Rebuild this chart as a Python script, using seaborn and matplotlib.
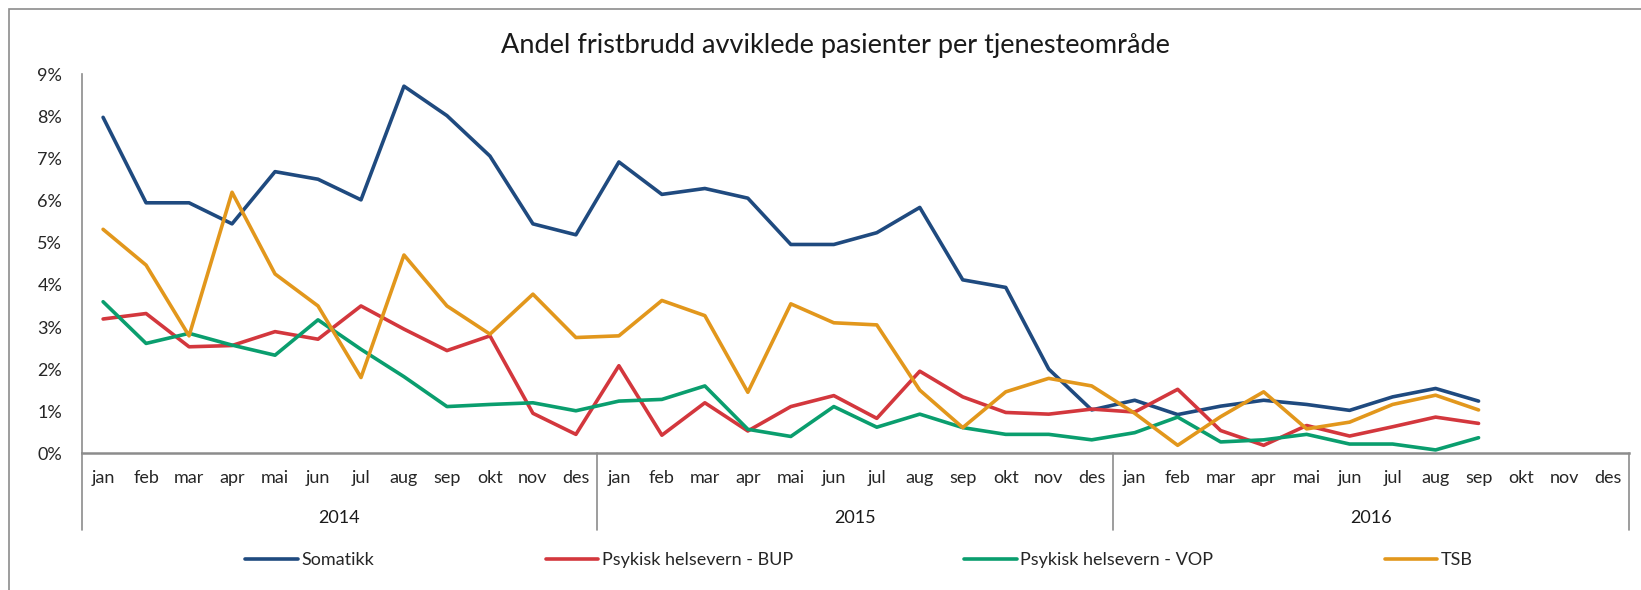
import numpy as np
import pandas as pd
import seaborn as sns
import matplotlib.pyplot as plt
import matplotlib.transforms as mtransforms

# Måneder og år
months = ["jan", "feb", "mar", "apr", "mai", "jun", "jul", "aug", "sep", "okt", "nov", "des"]
years = ["2014", "2015", "2016"]

nan = np.nan
somatikk = [7.98, 5.95, 5.95, 5.45, 6.69, 6.51, 6.02, 8.72, 8.02, 7.06, 5.45, 5.19,
            6.92, 6.15, 6.29, 6.06, 4.96, 4.96, 5.24, 5.84, 4.12, 3.94, 2.00, 1.03,
            1.26, 0.92, 1.12, 1.26, 1.16, 1.02, 1.34, 1.54, 1.24, nan, nan, nan]
bup = [3.19, 3.32, 2.53, 2.56, 2.89, 2.71, 3.50, 2.95, 2.44, 2.79, 0.95, 0.45,
       2.08, 0.43, 1.20, 0.53, 1.11, 1.37, 0.83, 1.95, 1.34, 0.97, 0.93, 1.05,
       0.98, 1.52, 0.54, 0.19, 0.66, 0.41, 0.63, 0.86, 0.71, nan, nan, nan]
vop = [3.60, 2.61, 2.85, 2.57, 2.33, 3.17, 2.47, 1.82, 1.11, 1.16, 1.20, 1.01,
       1.24, 1.28, 1.60, 0.57, 0.40, 1.11, 0.62, 0.93, 0.61, 0.45, 0.45, 0.32,
       0.49, 0.86, 0.27, 0.32, 0.45, 0.22, 0.22, 0.08, 0.37, nan, nan, nan]
tsb = [5.32, 4.47, 2.79, 6.20, 4.26, 3.50, 1.80, 4.71, 3.50, 2.83, 3.78, 2.75,
       2.79, 3.63, 3.27, 1.45, 3.55, 3.10, 3.05, 1.50, 0.61, 1.46, 1.78, 1.60,
       0.95, 0.19, 0.87, 1.46, 0.58, 0.74, 1.16, 1.38, 1.03, nan, nan, nan]

series_names = ["Somatikk", "Psykisk helsevern - BUP", "Psykisk helsevern - VOP", "TSB"]
colors = ["#1F4A7F", "#D3373D", "#0A9E6E", "#E2971C"]

# Langt format for seaborn
n = len(months) * len(years)
df = pd.concat([
    pd.DataFrame({"pos": np.arange(n), "andel": vals, "serie": name})
    for name, vals in zip(series_names, [somatikk, bup, vop, tsb])
]).dropna()

sns.set_theme(style="white")
plt.rcParams["font.family"] = ["Lato", "DejaVu Sans"]

W, H = 1641, 590
fig = plt.figure(figsize=(W / 100, H / 100), dpi=100)
ax = fig.add_axes([81.6 / W, 1 - 453.3 / H, (1629 - 81.6) / W, (453.3 - 74.4) / H])

sns.lineplot(data=df, x="pos", y="andel", hue="serie", hue_order=series_names,
             palette=colors, linewidth=2.6, ax=ax, legend=False)

ax.set_xlim(-0.5, n - 0.5)
ax.set_ylim(0, 9)
ax.set_yticks(range(0, 10))
ax.set_yticklabels([f"{v}%" for v in range(0, 10)], fontsize=13)
ax.set_xticks(range(n))
ax.set_xticklabels(months * len(years), fontsize=13)
ax.tick_params(axis="y", length=0, pad=14)
ax.tick_params(axis="x", length=0, pad=12)
ax.set_xlabel("")
ax.set_ylabel("")

gray = "#8C8C8C"
for side in ["top", "right"]:
    ax.spines[side].set_visible(False)
ax.spines["left"].set_color(gray)
ax.spines["left"].set_linewidth(1.2)
ax.spines["bottom"].set_color(gray)
ax.spines["bottom"].set_linewidth(1.8)

# Års-skillelinjer og årstall
trans = mtransforms.blended_transform_factory(ax.transData, ax.transAxes)
sep_bottom = (453.3 - 530) / (453.3 - 74.4)
for k in range(len(years) + 1):
    ax.plot([k * 12 - 0.5, k * 12 - 0.5], [0, sep_bottom], transform=trans,
            color=gray, lw=1.2, clip_on=False)
for k, yr in enumerate(years):
    ax.text(k * 12 + 5.5, (453.3 - 517.7) / (453.3 - 74.4), yr, transform=trans,
            ha="center", va="center", fontsize=13, color="#1a1a1a")

# Tittel
fig.text(835 / W, 1 - 45 / H, "Andel fristbrudd avviklede pasienter per tjenesteområde",
         ha="center", va="center", fontsize=19.5, color="#1a1a1a")

# Ramme rundt diagrammet
fig.add_artist(plt.Rectangle((8.5 / W, -0.1), 2, 1 - 9 / H + 0.1, transform=fig.transFigure,
                             fill=False, ec=gray, lw=1.2))

# Tegnforklaring
handles = [plt.Line2D([], [], color=c, lw=2.6) for c in colors]
fig.legend(handles, series_names, loc="center", bbox_to_anchor=(859 / W, 1 - 560 / H),
           ncol=4, frameon=False, fontsize=13, handlelength=2.9, handletextpad=0.2,
           columnspacing=9.5)

fig.savefig("out.png", dpi=100)
